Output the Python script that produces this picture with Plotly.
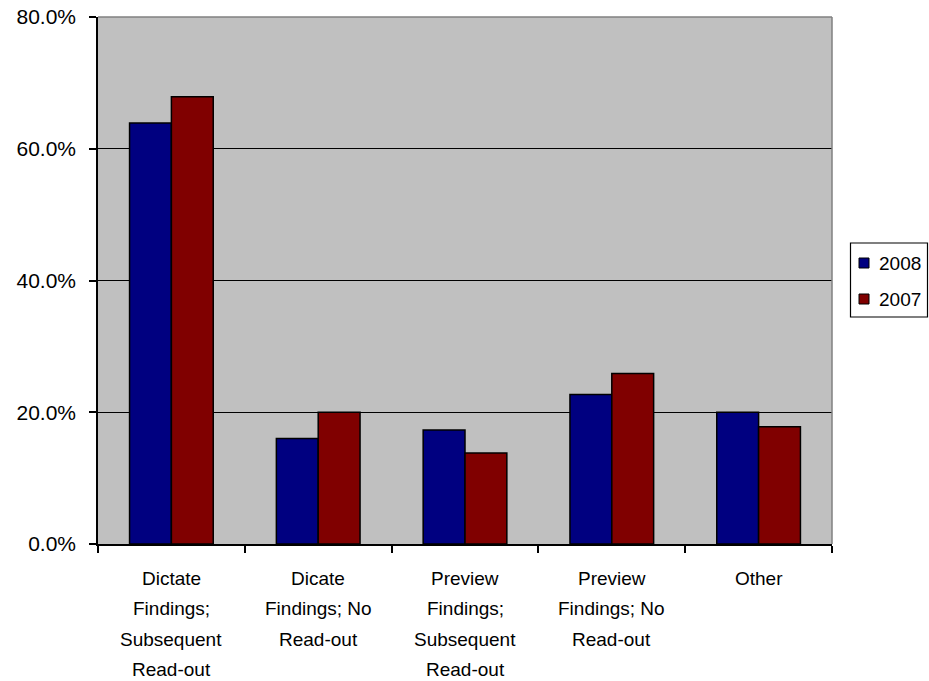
import plotly.graph_objects as go

categories = [
    "Dictate Findings; Subsequent Read-out",
    "Dicate Findings; No Read-out",
    "Preview Findings; Subsequent Read-out",
    "Preview Findings; No Read-out",
    "Other",
]
label_lines = [
    ["Dictate", "Findings;", "Subsequent", "Read-out"],
    ["Dicate", "Findings; No", "Read-out"],
    ["Preview", "Findings;", "Subsequent", "Read-out"],
    ["Preview", "Findings; No", "Read-out"],
    ["Other"],
]
series_names = ["2008", "2007"]
series_colors = ["#000080", "#800000"]
values_2008 = [63.9, 16.0, 17.3, 22.7, 20.0]
values_2007 = [67.9, 20.0, 13.8, 25.9, 17.8]
y_ticks = [0, 20, 40, 60, 80]
y_tick_labels = ["0.0%", "20.0%", "40.0%", "60.0%", "80.0%"]

FONT = "Liberation Sans, Arial, sans-serif"

# plot area in pixels (for paper-coordinate conversions of the legend)
L, R, T, B = 98, 832, 17, 544
W, H = 929, 681
def px(x):
    return (x - L) / (R - L)
def py(y):
    return (B - y) / (B - T)

fig = go.Figure()
for name, color, vals in zip(series_names, series_colors, [values_2008, values_2007]):
    fig.add_trace(go.Bar(
        name=name, x=categories, y=vals,
        marker=dict(color=color, line=dict(color="black", width=1.5)),
        showlegend=False,
    ))

annotations = []
for cat, lines in zip(categories, label_lines):
    for i, line in enumerate(lines):
        annotations.append(dict(
            x=cat, xref="x", y=0, yref="y",
            text=line, showarrow=False,
            xanchor="center", yanchor="middle",
            yshift=-(34 + 30.5 * i),
            font=dict(family=FONT, size=19, color="black"),
        ))

# legend (box, swatches, labels)
shapes = [
    dict(type="line", xref="paper", yref="paper", x0=0, x1=1, y0=1, y1=1,
         line=dict(color="#808080", width=1.5), layer="above"),
    dict(type="line", xref="paper", yref="paper", x0=1, x1=1, y0=0, y1=1,
         line=dict(color="#808080", width=1.5), layer="above"),
    dict(type="rect", xref="paper", yref="paper",
         x0=px(850.5), x1=px(927.5), y0=py(317), y1=py(243),
         line=dict(color="black", width=1.2), fillcolor="white"),
]
for i, (name, color) in enumerate(zip(series_names, series_colors)):
    cy = 263 + 36 * i
    shapes.append(dict(type="rect", xref="paper", yref="paper",
                       x0=px(859), x1=px(869), y0=py(cy + 5), y1=py(cy - 5),
                       line=dict(color="black", width=1), fillcolor=color))
    annotations.append(dict(x=px(877), xref="paper", y=py(cy), yref="paper",
                            text=name, showarrow=False, xanchor="left", yanchor="middle",
                            font=dict(family=FONT, size=19, color="black")))

fig.update_layout(
    width=W, height=H,
    margin=dict(l=L, r=W - R, t=T, b=H - B, autoexpand=False),
    paper_bgcolor="white",
    plot_bgcolor="#C0C0C0",
    barmode="group",
    bargap=0.43,
    bargroupgap=0,
    font=dict(family=FONT, size=16, color="black"),
    showlegend=False,
    annotations=annotations,
    shapes=shapes,
)
fig.update_xaxes(
    type="category",
    showticklabels=False,
    ticks="outside", tickson="boundaries", ticklen=7, tickcolor="black", tickwidth=1.5,
    showline=True, linecolor="black", linewidth=1.5,
    showgrid=False, zeroline=False,
)
fig.update_yaxes(
    range=[0, 80],
    tickvals=y_ticks, ticktext=y_tick_labels,
    ticks="outside", ticklen=7, tickcolor="black", tickwidth=1.5,
    ticklabelstandoff=9,
    showline=True, linecolor="black", linewidth=1.5,
    showgrid=True, gridcolor="black", gridwidth=1,
    zeroline=False,
    tickfont=dict(family=FONT, size=21, color="black"),
)

fig.write_html("out.html")
